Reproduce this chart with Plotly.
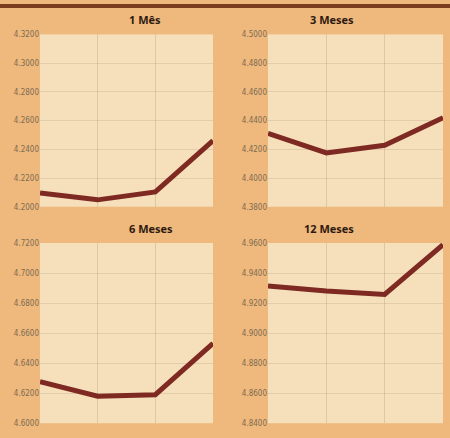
import plotly.graph_objects as go
from plotly.subplots import make_subplots

# four sampling points along each panel (x labels are not shown in the original)
periods = [1, 2, 3, 4]

titles = ['1 Mês', '3 Meses', '6 Meses', '12 Meses']

rate_1m = [4.2096, 4.2048, 4.2103, 4.2460]
rate_3m = [4.4310, 4.4175, 4.4228, 4.4420]
rate_6m = [4.6276, 4.6180, 4.6190, 4.6532]
rate_12m = [4.9314, 4.9280, 4.9257, 4.9589]

ticks_1m = [4.20, 4.22, 4.24, 4.26, 4.28, 4.30, 4.32]
ticks_3m = [4.38, 4.40, 4.42, 4.44, 4.46, 4.48, 4.50]
ticks_6m = [4.60, 4.62, 4.64, 4.66, 4.68, 4.70, 4.72]
ticks_12m = [4.84, 4.86, 4.88, 4.90, 4.92, 4.94, 4.96]

series = [rate_1m, rate_3m, rate_6m, rate_12m]
ticks = [ticks_1m, ticks_3m, ticks_6m, ticks_12m]

BG = '#efb87c'
PANEL = '#f6dfbb'
LINE = '#7e2a22'
TICK = '#7d6c52'

W, H = 450, 438
# plot-area boxes in pixels (left, right, top, bottom)
boxes = [(40, 213, 31, 207), (268, 443, 31, 207),
         (40, 213, 244, 428), (268, 443, 244, 428)]

fig = make_subplots(rows=2, cols=2)

for i, (vals, tv) in enumerate(zip(series, ticks)):
    r, c = i // 2 + 1, i % 2 + 1
    fig.add_trace(go.Scatter(x=periods, y=vals, mode='lines',
                             line=dict(color=LINE, width=5),
                             showlegend=False), row=r, col=c)
    l, rt, t, b = boxes[i]
    fig.update_xaxes(domain=[l / W, rt / W], range=[1, 4],
                     showticklabels=False, tickvals=[2, 3],
                     showgrid=True, gridcolor='rgba(190,170,140,0.45)', gridwidth=1,
                     zeroline=False, showline=False, row=r, col=c)
    fig.update_yaxes(domain=[1 - b / H, 1 - t / H], range=[tv[0], tv[-1]],
                     tickvals=tv, ticktext=['%.4f' % v for v in tv],
                     tickfont=dict(family='DejaVu Sans Condensed, sans-serif',
                                   size=8, color=TICK),
                     ticks='', ticklen=0,
                     showgrid=True, gridcolor='rgba(190,170,140,0.35)', gridwidth=1,
                     zeroline=False, showline=False, row=r, col=c)
    fig.add_annotation(text='<b>%s</b>' % titles[i], xref='paper', yref='paper',
                       x=(l + rt) / 2 / W, y=1 - (t - 15) / H,
                       showarrow=False, yanchor='middle',
                       font=dict(family='Open Sans, sans-serif', size=11, color='#2e1a10'))

# dark rule at the top edge
fig.add_shape(type='rect', xref='paper', yref='paper', x0=0, x1=1,
              y0=1 - 4 / H, y1=1, fillcolor='#7b3c20', line_width=0)

fig.update_layout(width=W, height=H, margin=dict(l=0, r=0, t=0, b=0),
                  paper_bgcolor=BG, plot_bgcolor=PANEL)

fig.write_html("out.html", config={'displayModeBar': False},
               post_script="document.body.style.margin='0';")
